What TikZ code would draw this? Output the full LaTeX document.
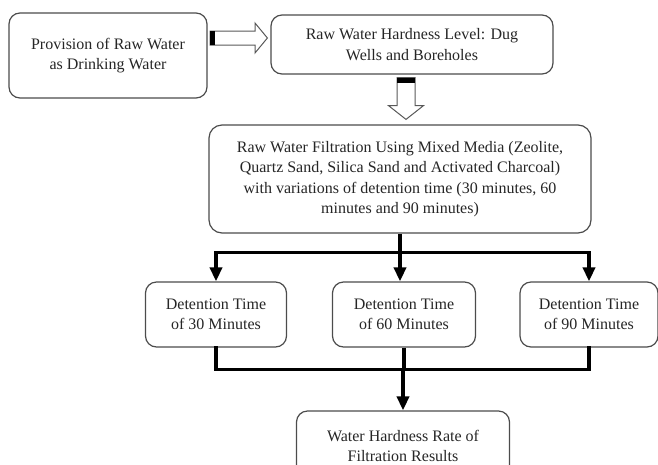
\documentclass[tikz,border=0pt]{standalone}
\usepackage{fontspec}
\setmainfont{Liberation Serif}
\usetikzlibrary{arrows.meta,calc}
\begin{document}
\begin{tikzpicture}[x=1pt,y=-1pt,
 box/.style={draw=black!70, line width=1.2pt, rounded corners=11pt, fill=white, align=center, inner sep=0pt, font=\fontsize{16}{20.5}\selectfont, text=black!85},
 conn/.style={line width=3.5pt, black},
 arr/.style={conn, -{Triangle[width=12pt,length=14pt]}},
 hollow/.style={draw=black!65, line width=1pt, fill=white, line join=miter}]
\useasboundingbox (0,0) rectangle (658,464);
\node[box, minimum width=198pt, minimum height=85pt] (b1) at (108,55.5) {Provision of Raw Water\\as Drinking Water};
\node[box, minimum width=282pt, minimum height=59pt] (b2) at (412,44.5) {Raw Water Hardness Level: Dug\\Wells and Boreholes};
\node[box, minimum width=382pt, minimum height=108pt, rounded corners=13pt] (b3) at (400,179) {Raw Water Filtration Using Mixed Media (Zeolite,\\Quartz Sand, Silica Sand and Activated Charcoal)\\with variations of detention time (30 minutes, 60\\minutes and 90 minutes)};
\node[box, minimum width=141pt, minimum height=65pt] (b4) at (216,314.5) {Detention Time\\of 30 Minutes};
\node[box, minimum width=143pt, minimum height=65pt] (b5) at (404,314.5) {Detention Time\\of 60 Minutes};
\node[box, minimum width=138pt, minimum height=65pt] (b6) at (589,314.5) {Detention Time\\of 90 Minutes};
\node[box, minimum width=213pt, minimum height=70pt] (b7) at (403,446) {Water Hardness Rate of\\Filtration Results};
% hollow arrow 1
\coordinate (h1) at (210,38);
\coordinate (h1e) at ($(b2.west |- h1)+(-3,0)$);
\draw[hollow] ($(h1)+(0,-7)$) -- ($(h1)+(45,-7)$) -- ($(h1)+(45,-15)$) -- (h1e) -- ($(h1)+(45,15)$) -- ($(h1)+(45,7)$) -- ($(h1)+(0,7)$) -- cycle;
\fill[black] ($(h1)+(0,-7)$) rectangle ($(h1)+(5,7)$);
% hollow arrow 2
\coordinate (h2) at ($(b2.south)+(-6,3)$);
\coordinate (h2e) at ($(b3.north -| h2)+(0,-5)$);
\draw[hollow] ($(h2)+(-9,0)$) -- ($(h2)+(-9,28)$) -- ($(h2)+(-17.5,28)$) -- (h2e) -- ($(h2)+(17.5,28)$) -- ($(h2)+(9,28)$) -- ($(h2)+(9,0)$) -- cycle;
\fill[black] ($(h2)+(-9,0)$) rectangle ($(h2)+(9,5)$);
% split
\coordinate (j1) at ($(b3.south)+(0,19)$);
\draw[conn] (b3.south) -- (j1);
\draw[conn, line cap=rect] (b4.north |- j1) -- (b6.north |- j1);
\draw[arr] (b4.north |- j1) -- (b4.north);
\draw[arr] (j1) -- (j1 |- b5.north);
\draw[arr] (b6.north |- j1) -- (b6.north);
% merge
\coordinate (j2) at ($(b7.north)+(0,-41)$);
\draw[conn, line cap=rect] (b4.south) -- (b4.south |- j2) -- (b6.south |- j2) -- (b6.south);
\draw[conn] (b5.south) -- (b5.south |- j2);
\draw[arr] (j2) -- (b7.north);
\end{tikzpicture}
\end{document}
